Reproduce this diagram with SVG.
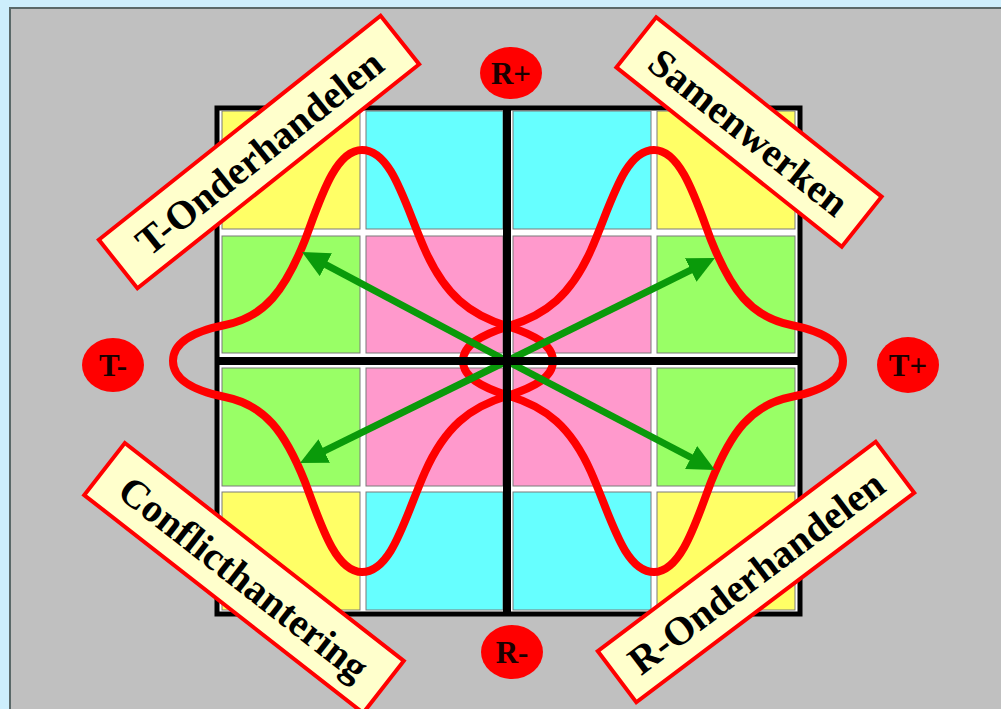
<svg xmlns="http://www.w3.org/2000/svg" width="1001" height="709" viewBox="0 0 1001 709">
<style>
.cell{stroke:#7a7a7a;stroke-width:1}
.y{fill:#ffff66}.c{fill:#66ffff}.g{fill:#99ff66}.p{fill:#ff99cc}
.curve{fill:none;stroke:#ff0000;stroke-width:8;stroke-linejoin:round}
.arrow{stroke:#0a9a0a;stroke-width:7;fill:none}
.box{fill:#ffffcc;stroke:#ff0000;stroke-width:4}
.lbl{font-family:"Liberation Serif","Times New Roman",serif;font-weight:bold;font-size:40px;fill:#000;text-anchor:middle}
.oval{fill:#ff0000}
.olbl{font-family:"Liberation Serif","Times New Roman",serif;font-weight:bold;font-size:31px;fill:#1a0000;text-anchor:middle}
</style>
<defs>
<marker id="ah" markerUnits="userSpaceOnUse" markerWidth="30" markerHeight="26" refX="14" refY="13" orient="auto">
<path d="M0,0 L27,13 L0,26 Z" fill="#0a9a0a"/>
</marker>
</defs>
<rect x="0" y="0" width="1001" height="709" fill="#cdeefc"/>
<rect x="10" y="8" width="1000" height="720" fill="#c0c0c0" stroke="#5a6868" stroke-width="2"/>
<g id="grid">
<rect x="217" y="108" width="583" height="506" fill="#ffffff" stroke="#000" stroke-width="5"/>
<rect class="cell y" x="222" y="111" width="138" height="118"/>
<rect class="cell c" x="366" y="111" width="137" height="118"/>
<rect class="cell c" x="513" y="111" width="138" height="118"/>
<rect class="cell y" x="657" y="111" width="138" height="118"/>
<rect class="cell g" x="222" y="236" width="138" height="117"/>
<rect class="cell p" x="366" y="236" width="137" height="117"/>
<rect class="cell p" x="513" y="236" width="138" height="117"/>
<rect class="cell g" x="657" y="236" width="138" height="117"/>
<rect class="cell g" x="222" y="368" width="138" height="118"/>
<rect class="cell p" x="366" y="368" width="137" height="118"/>
<rect class="cell p" x="513" y="368" width="138" height="118"/>
<rect class="cell g" x="657" y="368" width="138" height="118"/>
<rect class="cell y" x="222" y="492" width="138" height="118"/>
<rect class="cell c" x="366" y="492" width="137" height="118"/>
<rect class="cell c" x="513" y="492" width="138" height="118"/>
<rect class="cell y" x="657" y="492" width="138" height="118"/>
</g>
<g id="curve">
<path class="curve" d="M173,361 C173,340 200,330 225,325 C265,317 285,290 305,240 C320,200 335,150 362,150 C392,150 405,205 425,250 C445,295 470,315 507,326 C535,335 553,345 553,361 C553,377 535,387 507,396 C470,407 445,427 425,472 C405,517 392,572 362,572 C335,572 320,522 305,482 C285,432 265,405 225,397 C200,392 173,382 173,361 Z"/>
<path class="curve" d="M843,361 C843,340 816,330 791,325 C751,317 731,290 711,240 C696,200 681,150 654,150 C624,150 611,205 591,250 C571,295 546,315 509,326 C481,335 463,345 463,361 C463,377 481,387 509,396 C546,407 571,427 591,472 C611,517 624,572 654,572 C681,572 696,522 711,482 C731,432 751,405 791,397 C816,392 843,382 843,361 Z"/>
</g>
<g id="connectors">
<line class="arrow" x1="507" y1="361" x2="313.5" y2="258.1" marker-end="url(#ah)"/>
<line class="arrow" x1="507" y1="361" x2="703.3" y2="263.8" marker-end="url(#ah)"/>
<line class="arrow" x1="507" y1="361" x2="311.7" y2="457.2" marker-end="url(#ah)"/>
<line class="arrow" x1="507" y1="361" x2="703.5" y2="464.0" marker-end="url(#ah)"/>
</g>
<g id="axes">
<line x1="507" y1="106" x2="507" y2="616" stroke="#000" stroke-width="8"/>
<line x1="215" y1="361" x2="802" y2="361" stroke="#000" stroke-width="8"/>
</g>
<g id="t-onderhandelen" transform="translate(259,152) rotate(-38.5)">
<rect class="box" x="-180" y="-31" width="360" height="62"/>
<text class="lbl" x="0" y="14">T-Onderhandelen</text>
</g>
<g id="samenwerken" transform="translate(749,132) rotate(38.5)">
<rect class="box" x="-144" y="-32" width="288" height="64"/>
<text class="lbl" x="0" y="14">Samenwerken</text>
</g>
<g id="conflicthantering" transform="translate(244,578) rotate(38)">
<rect class="box" x="-177" y="-33" width="354" height="66"/>
<text class="lbl" x="0" y="14">Conflicthantering</text>
</g>
<g id="r-onderhandelen" transform="translate(756,572) rotate(-37)">
<rect class="box" x="-174" y="-32" width="348" height="64"/>
<text class="lbl" x="0" y="14">R-Onderhandelen</text>
</g>
<g id="r-plus">
<ellipse class="oval" cx="511" cy="73" rx="31" ry="26"/>
<text class="olbl" x="511" y="84">R+</text>
</g>
<g id="t-minus">
<ellipse class="oval" cx="113" cy="365" rx="31" ry="27"/>
<text class="olbl" x="113" y="376">T-</text>
</g>
<g id="t-plus">
<ellipse class="oval" cx="908" cy="365" rx="31" ry="28"/>
<text class="olbl" x="908" y="376">T+</text>
</g>
<g id="r-minus">
<ellipse class="oval" cx="512" cy="652" rx="31" ry="27"/>
<text class="olbl" x="512" y="663">R-</text>
</g>
</svg>
